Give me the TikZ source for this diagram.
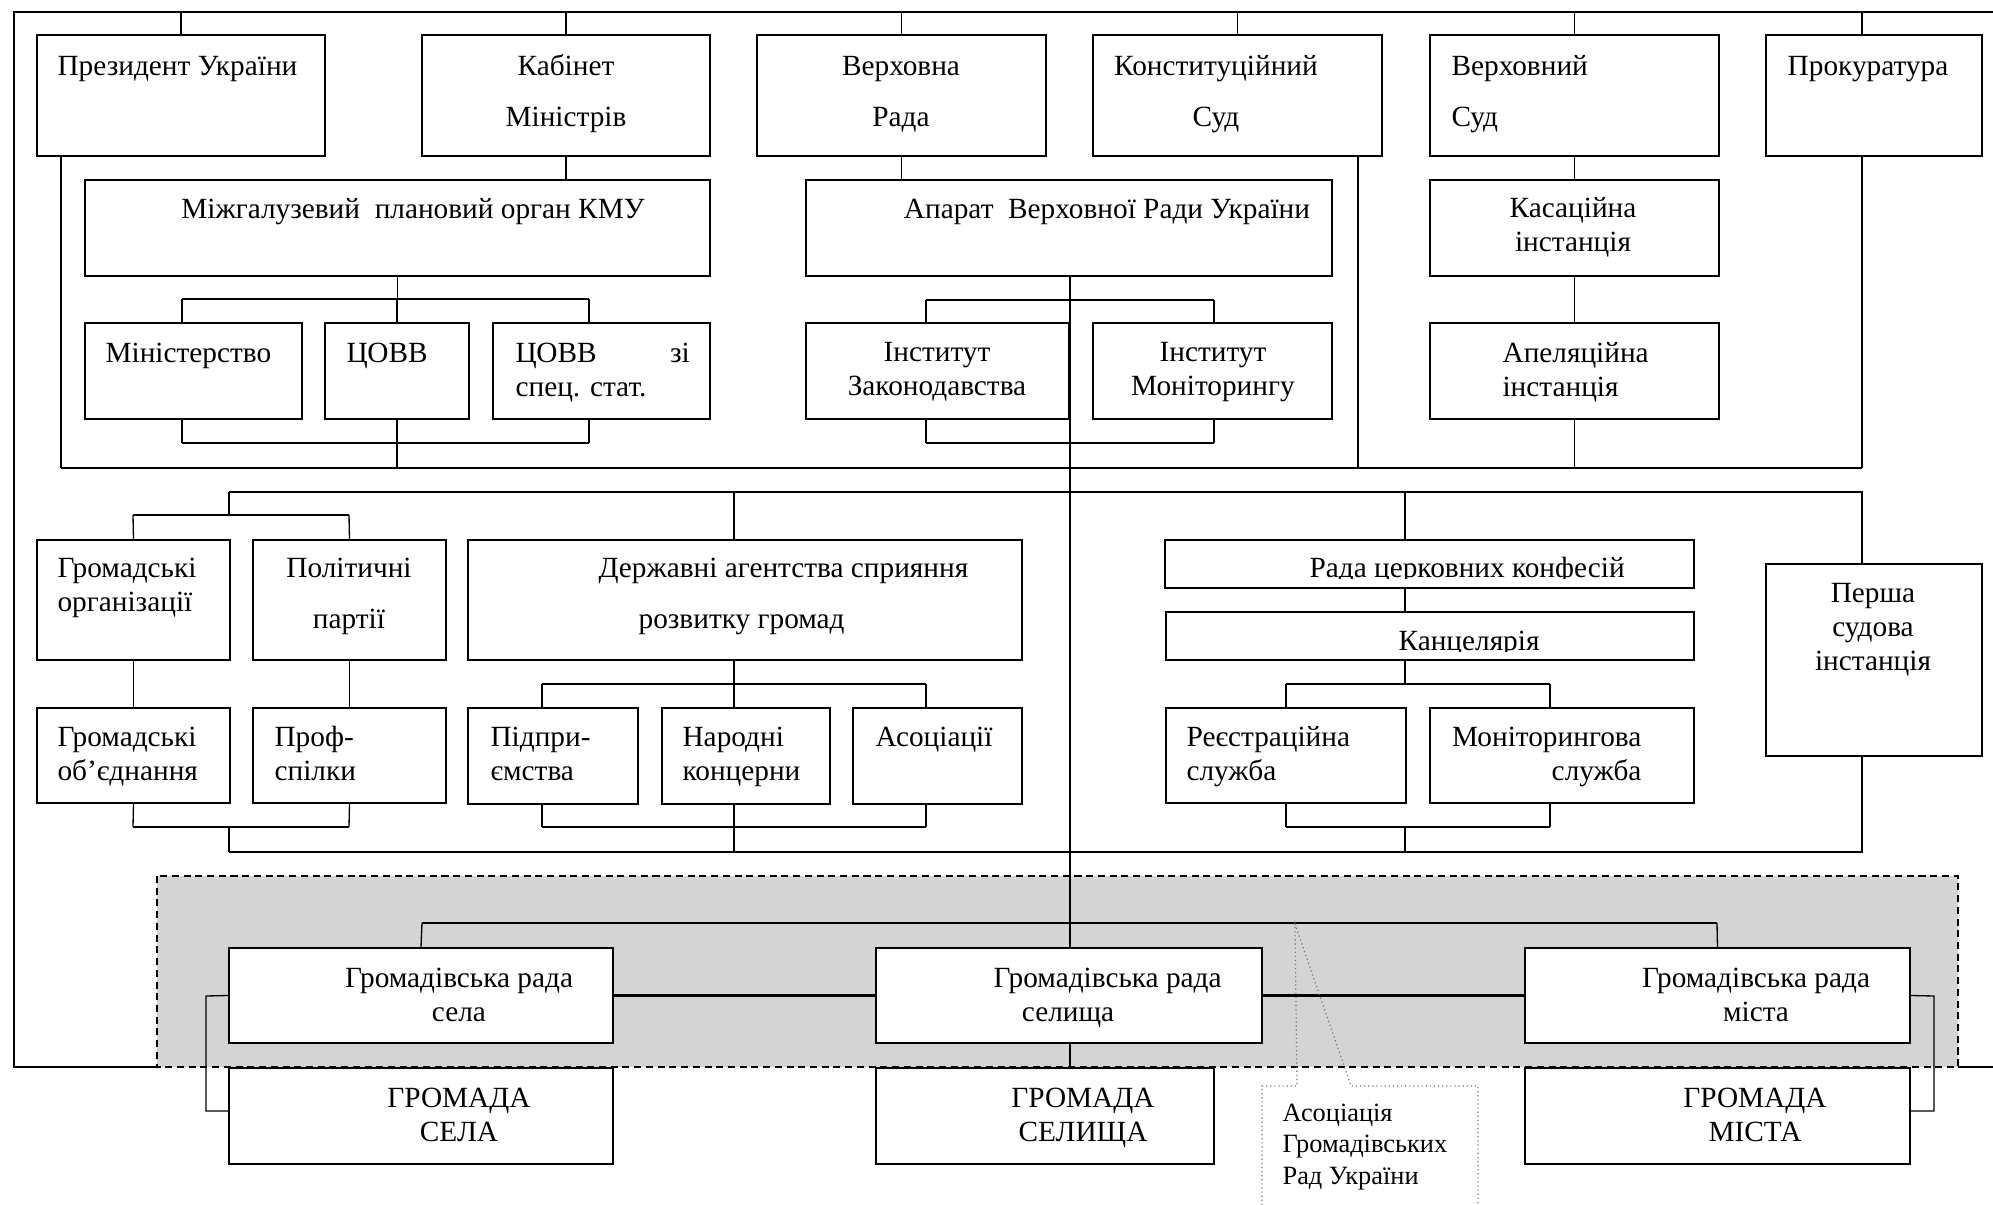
\documentclass[tikz,border=0pt]{standalone}
\usepackage{fontspec}
\setmainfont{Liberation Serif}
\usetikzlibrary{fit}

\tikzset{
  box/.style={draw, fill=white, line width=0.7pt, inner sep=0pt},
  link/.style={line width=0.45pt},
  bus/.style={line width=0.7pt},
  txt/.style={inner sep=0pt, font=\fontsize{10}{11.6}\selectfont},
  wide/.style={inner sep=0pt, font=\fontsize{10}{17.4}\selectfont},
  callout/.style={draw=black!55, line width=0.4pt, densely dotted},
}

\begin{document}
\begin{tikzpicture}[x=0.012cm, y=-0.012cm]
    \useasboundingbox (0,0) rectangle (1993,1205);
    % shaded area of the communities
    \fill[black!17] (157,876) rectangle (1958,1067);
    \draw[line width=0.6pt, dash pattern=on 2.4pt off 1.6pt] (157,876) rectangle (1958,1067);
    % outer frame
    \draw[bus] (1993,12) -- (14,12) -- (14,1067) -- (157,1067);
    \draw[bus] (1958,1067) -- (1993,1067);
    % lines and levels
    \coordinate (ftop) at (0,12);
    \coordinate (bmain) at (0,468);
    \coordinate (bup) at (0,492);
    \coordinate (blow) at (0,852);
    \coordinate (xp) at (61,0);
    \coordinate (xk) at (1358,0);
    \coordinate (xr) at (1862,0);
    \coordinate (xt) at (1070,0);
    % top row
    \node[box, fit={(37,35) (325,156)}] (pres) {};
    \node[box, fit={(422,35) (710,156)}] (kab) {};
    \node[box, fit={(757,35) (1046,156)}] (vrada) {};
    \node[box, fit={(1093,35) (1382,156)}] (ksud) {};
    \node[box, fit={(1430,35) (1719,156)}] (vsud) {};
    \node[box, fit={(1766,35) (1982,156)}] (prok) {};
    % second row
    \node[box, fit={(85,180) (710,276)}] (mizh) {};
    \node[box, fit={(806,180) (1332,276)}] (apar) {};
    \node[box, fit={(1430,180) (1719,276)}] (kas) {};
    % third row
    \node[box, fit={(85,323) (302,419)}] (min) {};
    \node[box, fit={(325,323) (469,419)}] (covv) {};
    \node[box, fit={(493,323) (710,419)}] (covvs) {};
    \node[box, fit={(806,323) (1069,419)}] (izak) {};
    \node[box, fit={(1093,323) (1332,419)}] (imon) {};
    \node[box, fit={(1430,323) (1719,419)}] (apel) {};
    % middle block
    \node[box, fit={(37,540) (230,660)}] (gorg) {};
    \node[box, fit={(253,540) (446,660)}] (ppar) {};
    \node[box, fit={(468,540) (1022,660)}] (agen) {};
    \node[box, fit={(1165,540) (1694,588)}] (rcerk) {};
    \node[box, fit={(1166,612) (1694,660)}] (kanc) {};
    \node[box, fit={(1766,564) (1982,756)}] (persha) {};
    \node[box, fit={(37,708) (230,803)}] (gob) {};
    \node[box, fit={(253,708) (446,803)}] (prof) {};
    \node[box, fit={(468,708) (638,804)}] (pidp) {};
    \node[box, fit={(662,708) (830,804)}] (nkon) {};
    \node[box, fit={(853,708) (1022,804)}] (asoc) {};
    \node[box, fit={(1166,708) (1406,803)}] (reestr) {};
    \node[box, fit={(1430,708) (1694,803)}] (monit) {};
    % top row to the frame
    \foreach \n in {pres,kab,vrada,ksud,vsud}
        \draw[link] (\n.north) -- (\n.north |- ftop);
    \draw[link] (xr |- prok.north) -- (xr |- ftop);
    % down to the main bus
    \draw[link] (kab.south) -- (mizh.north -| kab.south);
    \draw[link] (vrada.south) -- (apar.north -| vrada.south);
    \draw[link] (vsud.south) -- (kas.north);
    \draw[link] (kas.south) -- (apel.north);
    \draw[link] (apel.south) -- (apel.south |- bmain);
    \draw[link] (xp |- pres.south) -- (xp |- bmain);
    \draw[link] (xk |- ksud.south) -- (xk |- bmain);
    \draw[link] (xr |- prok.south) -- (xr |- bmain);
    \draw[bus] (xp |- bmain) -- (xr |- bmain);
    % cabinet branch
    \coordinate (mb1) at (182,299);
    \coordinate (mb2) at (589,299);
    \coordinate (mc1) at (182,443);
    \coordinate (mc2) at (589,443);
    \draw[link] (mizh.south) -- (mizh.south |- mb1);
    \draw[bus] (mb1) -- (mb2);
    \draw[link] (mb1) -- (mb1 |- min.north);
    \draw[link] (covv.north) -- (covv.north |- mb1);
    \draw[link] (mb2) -- (mb2 |- covvs.north);
    \draw[link] (mc1 |- min.south) -- (mc1);
    \draw[link] (mc2 |- covvs.south) -- (mc2);
    \draw[bus] (mc1) -- (mc2);
    \draw[link] (covv.south) -- (covv.south |- bmain);
    % parliament branch
    \coordinate (ab1) at (926,300);
    \coordinate (ab2) at (1214,300);
    \coordinate (ac1) at (926,443);
    \coordinate (ac2) at (1214,443);
    \draw[link] (xt |- apar.south) -- (xt |- ab1);
    \draw[bus] (ab1) -- (ab2);
    \draw[link] (ab1) -- (ab1 |- izak.north);
    \draw[link] (ab2) -- (ab2 |- imon.north);
    \draw[link] (ac1 |- izak.south) -- (ac1);
    \draw[link] (ac2 |- imon.south) -- (ac2);
    \draw[bus] (ac1) -- (ac2);
    % upper and lower buses of the middle block
    \draw[bus] (229,492) -- (xr |- bup) -- (xr |- persha.north);
    \draw[bus] (229,852) -- (xr |- blow) -- (xr |- persha.south);
    % public organisations
    \coordinate (gb1) at (133,515);
    \coordinate (gb2) at (349,515);
    \coordinate (gc1) at (133,827);
    \coordinate (gc2) at (349,827);
    \draw[link] (229,492) -- (229,515);
    \draw[bus] (gb1) -- (gb2);
    \draw[link] (gb1) -- (gorg.north);
    \draw[link] (gb2) -- (ppar.north);
    \draw[link] (gorg.south) -- (gob.north);
    \draw[link] (ppar.south) -- (prof.north);
    \draw[link] (gob.south) -- (gc1);
    \draw[link] (prof.south) -- (gc2);
    \draw[bus] (gc1) -- (gc2);
    \draw[link] (229,827) -- (229,852);
    % state agencies
    \coordinate (db1) at (542,684);
    \coordinate (db2) at (926,684);
    \coordinate (dc1) at (542,827);
    \coordinate (dc2) at (926,827);
    \draw[link] (734,492) -- (734,540);
    \draw[link] (734,660) -- (734,684);
    \draw[bus] (db1) -- (db2);
    \draw[link] (db1) -- (db1 |- pidp.north);
    \draw[link] (734,684) -- (734,708);
    \draw[link] (db2) -- (db2 |- asoc.north);
    \draw[link] (dc1 |- pidp.south) -- (dc1);
    \draw[link] (734,804) -- (734,852);
    \draw[link] (dc2 |- asoc.south) -- (dc2);
    \draw[bus] (dc1) -- (dc2);
    % council of churches
    \coordinate (cb1) at (1286,684);
    \coordinate (cb2) at (1550,684);
    \coordinate (cc1) at (1286,827);
    \coordinate (cc2) at (1550,827);
    \draw[link] (1405,492) -- (1405,540);
    \draw[link] (1405,588) -- (1405,612);
    \draw[link] (1405,660) -- (1405,684);
    \draw[bus] (cb1) -- (cb2);
    \draw[link] (cb1) -- (reestr.north);
    \draw[link] (cb2) -- (cb2 |- monit.north);
    \draw[link] (reestr.south) -- (cc1);
    \draw[link] (cc2 |- monit.south) -- (cc2);
    \draw[bus] (cc1) -- (cc2);
    \draw[link] (1405,827) -- (1405,852);
    % communities
    \node[box, fit={(229,948) (613,1043)}] (rselo) {};
    \node[box, fit={(876,948) (1262,1043)}] (rselyshche) {};
    \node[box, fit={(1525,948) (1910,1043)}] (rmisto) {};
    \node[box, fit={(229,1068) (613,1164)}] (gselo) {};
    \node[box, fit={(876,1068) (1214,1164)}] (gselyshche) {};
    \node[box, fit={(1525,1068) (1910,1164)}] (gmisto) {};
    \coordinate (rb1) at (422,923);
    \coordinate (rb2) at (1717,923);
    \draw[link] (xt |- ab1) -- (xt |- ac1);
    \draw[link] (xt |- ac1) -- (xt |- rselyshche.north);
    \draw[link] (xt |- rselyshche.south) -- (xt |- gselyshche.north);
    \draw[bus] (rb1) -- (rb2);
    \draw[link] (rb1) -- (rselo.north);
    \draw[link] (rb2) -- (rmisto.north);
    \draw[bus] (rselo.east) -- (rselyshche.west);
    \draw[bus] (rselyshche.east) -- (rmisto.west);
    \draw[link] (rselo.west) -- (206,996) -- (206,1111) -- (gselo.west |- 0,1111);
    \draw[link] (rmisto.east) -- (1934,996) -- (1934,1111) -- (gmisto.east |- 0,1111);
    % callout of the association
    \draw[callout] (1262,1205) -- (1262,1086) -- (1297,1086) -- (1295,924) -- (1351,1086) -- (1478,1086) -- (1478,1205);
    % texts (base = baseline of the last line)
    \node[txt, anchor=base west] (pres-t) at (57,75) {Президент України};
    \node[wide, align=center, anchor=base] (kab-t) at (566,126) {Кабінет\\Міністрів};
    \node[wide, align=center, anchor=base] (vrada-t) at (901,126) {Верховна\\Рада};
    \node[wide, align=center, anchor=base] (ksud-t) at (1216,126) {Конституційний\\Суд};
    \node[wide, align=left, anchor=base west] (vsud-t) at (1451,126) {Верховний\\Суд};
    \node[txt, anchor=base] (prok-t) at (1868,75) {Прокуратура};
    \node[txt, anchor=base] (mizh-t) at (413,218) {Міжгалузевий\ \ плановий орган КМУ};
    \node[txt, anchor=base] (apar-t) at (1107,218) {Апарат\ \ Верховної Ради України};
    \node[txt, align=center, anchor=base] (kas-t) at (1573,251) {Касаційна\\інстанція};
    \node[txt, anchor=base west] (min-t) at (105,362) {Міністерство};
    \node[txt, anchor=base west] (covv-t) at (346,362) {ЦОВВ};
    \node[txt, align=left, anchor=base west] (covvs-t) at (515,396) {\hbox to 2.09cm{ЦОВВ\hfill зі}\\спец. стат.};
    \node[txt, align=center, anchor=base] (izak-t) at (937,395) {Інститут\\Законодавства};
    \node[txt, align=center, anchor=base] (imon-t) at (1213,395) {Інститут\\Моніторингу};
    \node[txt, align=left, anchor=base west] (apel-t) at (1502,396) {Апеляційна\\інстанція};
    \node[txt, align=left, anchor=base west] (gorg-t) at (57,611) {Громадські\\організації};
    \node[wide, align=center, anchor=base] (ppar-t) at (349,628) {Політичні\\партії};
    \node[wide, align=left, anchor=base west] (agen-t) at (598,628) {Державні агентства сприяння\\\hspace*{0.48cm}розвитку громад};
    \begin{scope}
        \clip (1165,540) rectangle (1694,578);
        \node[txt, anchor=base west] (rcerk-t) at (1309,577) {Рада церковних конфесій};
    \end{scope}
    \begin{scope}
        \clip (1166,612) rectangle (1694,651);
        \node[txt, anchor=base west] (kanc-t) at (1398,650) {Канцелярія};
    \end{scope}
    \node[txt, align=center, anchor=base] (persha-t) at (1873,670) {Перша\\судова\\інстанція};
    \node[txt, align=left, anchor=base west] (gob-t) at (57,780) {Громадські\\об’єднання};
    \node[txt, align=left, anchor=base west] (prof-t) at (274,780) {Проф-\\спілки};
    \node[txt, align=left, anchor=base west] (pidp-t) at (490,780) {Підпри-\\ємства};
    \node[txt, align=left, anchor=base west] (nkon-t) at (682,780) {Народні\\концерни};
    \node[txt, anchor=base west] (asoc-t) at (875,746) {Асоціації};
    \node[txt, align=left, anchor=base west] (reestr-t) at (1186,780) {Реєстраційна\\служба};
    \node[txt, align=right, anchor=base east] (monit-t) at (1642,780) {Моніторингова\\служба};
    \node[txt, align=center, anchor=base] (rselo-t) at (459,1021) {Громадівська рада\\села};
    \node[txt, align=left, anchor=base west] (rselyshche-t) at (993,1021) {Громадівська рада\\\hspace*{0.34cm}селища};
    \node[txt, align=center, anchor=base] (rmisto-t) at (1756,1021) {Громадівська рада\\міста};
    \node[txt, align=center, anchor=base] (gselo-t) at (459,1141) {ГРОМАДА\\СЕЛА};
    \node[txt, align=center, anchor=base] (gselyshche-t) at (1083,1141) {ГРОМАДА\\СЕЛИЩА};
    \node[txt, align=center, anchor=base] (gmisto-t) at (1755,1141) {ГРОМАДА\\МІСТА};
    \node[inner sep=0pt, font=\fontsize{9}{10.6}\selectfont, align=left, anchor=base west] (assoc-t) at (1282,1184) {Асоціація\\Громадівських\\Рад України};
\end{tikzpicture}
\end{document}
